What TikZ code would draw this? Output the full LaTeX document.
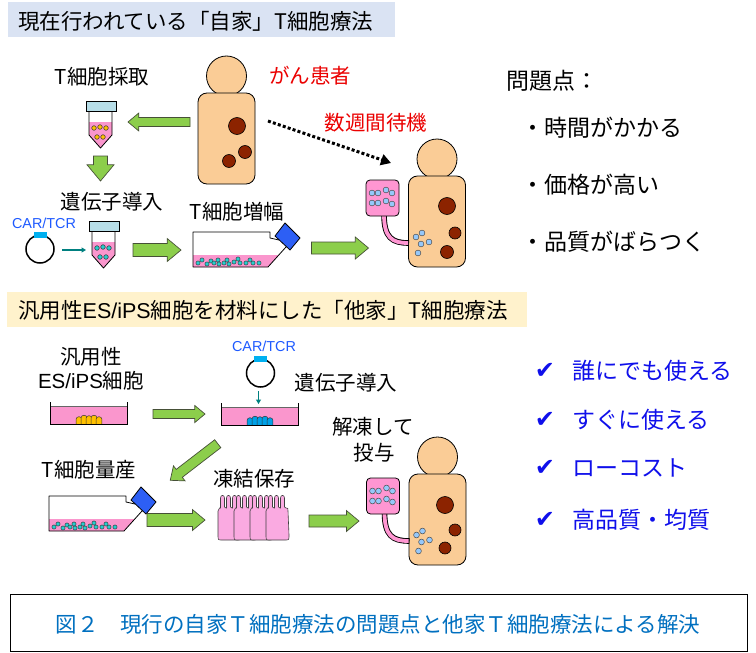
\documentclass[tikz,border=0pt]{standalone}
\usepackage{fontspec}
\setmainfont{Noto Sans CJK JP}
\newfontfamily\arialfont{Liberation Sans}
\newfontfamily\symfont{DejaVu Sans}
\usetikzlibrary{arrows.meta,calc}

\definecolor{bandblue}{RGB}{218,227,243}
\definecolor{bandcream}{RGB}{255,242,204}
\definecolor{skin}{RGB}{250,204,150}
\definecolor{tumor}{RGB}{140,35,0}
\definecolor{bagpink}{RGB}{255,150,210}
\definecolor{liquid}{RGB}{250,150,205}
\definecolor{agreen}{RGB}{140,206,75}
\definecolor{aedge}{RGB}{70,80,55}
\definecolor{capgray}{RGB}{183,222,232}
\definecolor{flaskcap}{RGB}{45,95,245}
\definecolor{tealdot}{RGB}{40,205,205}
\definecolor{cellblue}{RGB}{150,200,250}
\definecolor{orangedot}{RGB}{255,192,0}
\definecolor{colblue}{RGB}{0,160,230}
\definecolor{cryopink}{RGB}{250,170,225}
\definecolor{checkblue}{RGB}{15,15,235}
\definecolor{captionblue}{RGB}{0,112,192}
\definecolor{cartext}{RGB}{30,90,255}
\definecolor{carbar}{RGB}{0,176,240}
\definecolor{arrowteal}{RGB}{0,128,128}
\definecolor{alertred}{RGB}{235,0,0}

\newcommand{\tkfs}[1]{\fontsize{#1}{#1}\selectfont}

% block arrow: centre x, centre y, angle, length, shaft width, head width
\newcommand{\blockarrow}[6]{%
  \begin{scope}[shift={(#1,#2)}, rotate=#3]
    \pgfmathsetmacro{\ba}{#4/2}
    \pgfmathsetmacro{\bb}{#4/2-0.6*#6}
    \pgfmathsetmacro{\bs}{#5/2}
    \pgfmathsetmacro{\bh}{#6/2}
    \draw[garrow] (-\ba,-\bs) -- (\bb,-\bs) -- (\bb,-\bh) -- (\ba,0)
      -- (\bb,\bh) -- (\bb,\bs) -- (-\ba,\bs) -- cycle;
  \end{scope}}

\tikzset{
  lbl/.style={font=\tkfs{20.5}, inner sep=0pt},
  biglbl/.style={font=\tkfs{23}, inner sep=0pt, anchor=west},
  carlbl/.style={font=\arialfont\tkfs{14.4}, text=cartext, inner sep=0pt},
  garrow/.style={draw=aedge, fill=agreen, line width=0.7pt, line join=miter},
  outl/.style={draw=black, line width=0.8pt},
  tumorc/.style={fill=tumor, draw=black, line width=0.6pt},
  cellc/.style={fill=cellblue, draw=black!70, line width=0.5pt},
  tealarrow/.style={draw=arrowteal, line width=1.2pt, -{Triangle[length=4.5pt,width=5pt]}},
  % patient: origin at the top centre of the body
  patient/.pic={
    \draw[outl, fill=skin] (0,-17) circle[radius=20];
    \draw[outl, fill=skin, rounded corners=9pt] (-28.5,0) rectangle (28.5,91);
  },
  % infusion bag with line running into the body
  infusion/.pic={
    \draw[line width=5.6pt] (-53,38) .. controls (-53,62) and (-45,67) .. (-28,67);
    \draw[bagpink, line width=3.8pt] (-53,38) .. controls (-53,62) and (-45,67) .. (-28.8,67);
    \draw[outl, fill=bagpink, rounded corners=4pt] (-71,4) rectangle (-38,40);
    \foreach \cx/\cy in {-65/17,-59/17,-51/14,-45/17,-65/27,-59/27,-51/25,-45/28}
      \draw[cellc] (\cx,\cy) circle[radius=2.9];
    \foreach \cx/\cy in {-21/61,-15/57,-16/68,-8/66,-19/77}
      \draw[cellc] (\cx,\cy) circle[radius=2.9];
  },
  % centrifuge tube: origin at the top-left of the cap
  pics/sampletube/.style={code={
    \fill[white] (3,10) -- (3,34) -- (14.5,47) -- (26,34) -- (26,10) -- cycle;
    \fill[liquid] (3,21) -- (3,34) -- (14.5,47) -- (26,34) -- (26,21) -- cycle;
    \draw[line width=0.8pt, line join=round] (3,10) -- (3,34) -- (14.5,47) -- (26,34) -- (26,10);
    \draw[outl, fill=capgray] (0,0) rectangle (30,10);
    \foreach \cx/\cy in {8/27,14/26,20/27,11/36,17/36}
      \draw[fill=#1, draw=black!80, line width=0.5pt] (\cx,\cy) circle[radius=2.3];
  }},
  % culture flask: origin at the top-left corner of the body
  flask/.pic={
    \fill[white] (0,0) -- (77,0) -- (77,6) -- (86,8) -- (93,15) -- (75,35) -- (0,35) -- cycle;
    \fill[liquid] (0,23) -- (85.8,23) -- (75,35) -- (0,35) -- cycle;
    \draw[line width=0.8pt, line join=round] (86,8) -- (77,6) -- (77,0) -- (0,0) -- (0,35) -- (75,35) -- (93,15);
    \foreach \cx/\cy in {5/31,9/28,14/32,18/29,21/31,25/28,26/32,31/31,34/28,36/32,41/30,45/27,47/31,53/31,57/28,60/31,66/31}
      \draw[fill=tealdot, draw=black!80, line width=0.45pt] (\cx,\cy) circle[radius=2.1];
    \draw[outl, fill=flaskcap, line join=round] (82,4) -- (92,-9) -- (107,6) -- (97,18) -- cycle;
  },
  % culture dish with colonies: origin at the top of the left wall
  pics/dish/.style={code={
    \fill[liquid] (0,4) rectangle (77,22);
    \draw[black!60, line width=0.5pt] (0,4) -- (77,4);
    \foreach \cx/\ty in {29/14,34/12.5,39/13,44/12.5,49/14}
      \draw[fill=#1, draw=black!80, line width=0.5pt]
        (\cx-2.8,22) -- (\cx-2.8,\ty+3) .. controls (\cx-2.8,\ty) and (\cx+2.8,\ty) .. (\cx+2.8,\ty+3) -- (\cx+2.8,22);
    \draw[line width=0.8pt] (0,0) -- (0,22) -- (77,22) -- (77,0);
  }},
  % cryovial: origin at the top-left of the body
  cryotube/.pic={
    \draw[fill=cryopink, draw=black!75, line width=0.6pt]
      (0,3) .. controls (0,1) .. (1.5,0) -- (2.5,0) -- (2.5,-10)
      .. controls (2.5,-13.5) and (6.5,-13.5) .. (6.5,-10) -- (6.5,-1) .. controls (6.5,0) .. (8,0) -- (8.5,0) -- (8.5,-10)
      .. controls (8.5,-13.5) and (12.5,-13.5) .. (12.5,-10) -- (12.5,-1) .. controls (12.5,0) .. (14,0) -- (14.5,0) -- (14.5,-10)
      .. controls (14.5,-13.5) and (18.5,-13.5) .. (18.5,-10) -- (18.5,-1) .. controls (18.5,0) .. (20,0)
      .. controls (22,0) .. (22,3) -- (23,27) .. controls (23,32) .. (19,32) -- (4,32) .. controls (0,32) .. (0,27) -- cycle;
  },
  % plasmid ring with insert
  plasmid/.pic={
    \draw[line width=1.5pt] (0,0) circle[radius=14];
    \fill[carbar] (-6.5,-17) rectangle (6.5,-11.5);
  }
}

\begin{document}
\begin{tikzpicture}[x=1pt, y=-1pt]
\useasboundingbox (0,0) rectangle (756,653);
\fill[white] (0,0) rectangle (756,653);

% ---------- upper section: autologous therapy ----------
\fill[bandblue] (8,2) rectangle (395,37);
\node[anchor=west, font=\tkfs{21.5}, inner sep=0pt] (title1) at (18,21) {現在行われている「自家」T細胞療法};

\node[lbl] (collect) at (102,77) {T細胞採取};
\node[lbl, text=alertred] (patientlbl) at (310,76) {がん患者};
\node[lbl, text=alertred] (waitlbl) at (376,123) {数週間待機};
\node[lbl] (transfer1) at (112,202) {遺伝子導入};
\node[lbl] (expand) at (237,212) {T細胞増幅};
\node[carlbl] (car1) at (44,223) {CAR/TCR};

\pic at (226.5,93) {patient};
\draw[tumorc] (237,126) circle[radius=8.5];
\draw[tumorc] (245,152) circle[radius=6.5];
\draw[tumorc] (229,161) circle[radius=6.5];

\pic at (86,101) {sampletube=orangedot};
\pic at (89,221) {sampletube=tealdot};
\pic at (40,249) {plasmid};
\coordinate (pl1) at (62,250);
\coordinate (tb2) at (86,250);
\draw[tealarrow] (pl1) -- (tb2);

\pic at (193,232) {flask};

\blockarrow{159}{122}{180}{62}{9}{18}
\blockarrow{100.5}{168.5}{270}{25}{14}{27}
\blockarrow{157}{250}{0}{48}{13}{23}
\blockarrow{340}{248}{0}{57}{12}{22}

\pic at (437,176) {patient};
\draw[tumorc] (447,206) circle[radius=8.5];
\draw[tumorc] (455,233) circle[radius=6];
\draw[tumorc] (447,252) circle[radius=6.5];
\pic at (437,176) {infusion};

\coordinate (wait1) at (268,121);
\coordinate (wait2) at (391,163);
\draw[line width=3pt, dash pattern=on 3pt off 2.2pt, -{Triangle[length=10pt,width=11pt]}] (wait1) -- (wait2);

\node[biglbl] (issues) at (506,81) {問題点：};
\node[biglbl] (issue1) at (521,128) {・時間がかかる};
\node[biglbl] (issue2) at (521,185) {・価格が高い};
\node[biglbl] (issue3) at (521,242) {・品質がばらつく};

% ---------- lower section: allogeneic therapy ----------
\fill[bandcream] (7,292) rectangle (527,327);
\node[anchor=west, font=\tkfs{21.5}, inner sep=0pt] (title2) at (18,310) {汎用性{\arialfont ES/iPS}細胞を材料にした「他家」T細胞療法};

\node[lbl] (univ1) at (91,357) {汎用性};
\node[lbl] (univ2) at (91,381) {{\arialfont ES/iPS}細胞};
\node[carlbl] (car2) at (264,346) {CAR/TCR};
\node[lbl] (transfer2) at (346,383) {遺伝子導入};
\node[lbl] (massprod) at (89,470) {T細胞量産};
\node[lbl] (freeze) at (254,479) {凍結保存};
\node[lbl] (thaw1) at (373,427) {解凍して};
\node[lbl] (thaw2) at (374,453) {投与};

\pic at (50,402) {dish=orangedot};
\pic at (221,403) {dish=colblue};
\pic at (260.5,373) {plasmid};
\coordinate (pl2) at (258.5,391);
\coordinate (ds2) at (258.5,404);
\draw[tealarrow] (pl2) -- (ds2);

\pic at (49,496) {flask};
\foreach \tx in {218,234,250,266}
  \pic at (\tx,508) {cryotube};

\blockarrow{179}{414}{0}{52}{9}{17}
\blockarrow{194}{462}{217.6}{60}{10}{19}
\blockarrow{176}{520}{0}{58}{13}{21}
\blockarrow{334}{521}{0}{50}{12}{21}

\pic at (437.5,474) {patient};
\draw[tumorc] (445,505) circle[radius=8.5];
\draw[tumorc] (455,530) circle[radius=6];
\draw[tumorc] (445,548) circle[radius=6];
\pic at (437.5,474) {infusion};

\foreach \k/\yy/\txt in {1/371/誰にでも使える, 2/420/すぐに使える, 3/468/ローコスト, 4/520/高品質・均質}{
  \node[font=\symfont\tkfs{24}, text=checkblue, inner sep=0pt] (chk\k) at (545,\yy) {✔};
  \node[biglbl, text=checkblue] (merit\k) at (572,\yy) {\txt};
}

% ---------- caption ----------
\draw[line width=1pt] (10,594) rectangle (747,651);
\node[font=\tkfs{21.5}, text=captionblue, inner sep=0pt] (caption) at (378,624)
  {図２　現行の自家Ｔ細胞療法の問題点と他家Ｔ細胞療法による解決};
\end{tikzpicture}
\end{document}
